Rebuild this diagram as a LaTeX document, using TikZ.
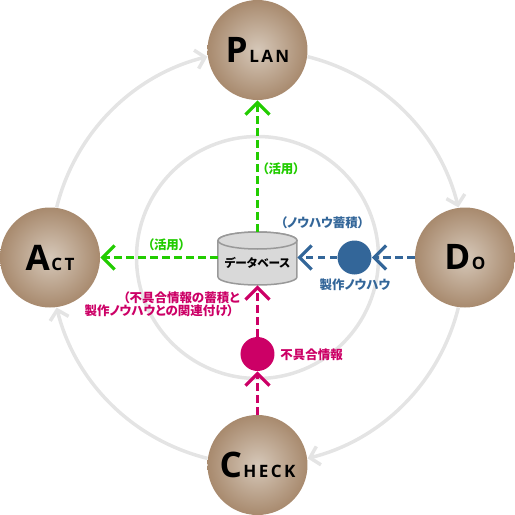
\documentclass[tikz,border=0pt]{standalone}
\usepackage{fontspec}
\setmainfont{Open Sans}
\newfontfamily\jpfont[RawFeature=+palt]{Noto Sans CJK JP}
\usetikzlibrary{arrows.meta}
\definecolor{ringgray}{HTML}{E4E4E4}
\definecolor{ballin}{HTML}{D6C8B9}
\definecolor{ballout}{HTML}{A88A6E}
\definecolor{usegreen}{HTML}{22CC00}
\definecolor{knowblue}{HTML}{336699}
\definecolor{faultred}{HTML}{CC0066}
\newcommand{\ballname}[2]{{\fontsize{20}{20}\selectfont\bfseries #1}\hspace{.03cm}{\addfontfeatures{LetterSpace=14}\fontsize{9.7}{10}\selectfont\bfseries #2}}
\tikzset{
  ball/.style={circle,minimum size=2cm,inner sep=0pt,shading=radial,inner color=ballin,outer color=ballout},
  dot/.style={circle,minimum size=.68cm,inner sep=0pt,fill=#1},
  ringline/.style={draw=ringgray,line width=.07cm,bend left=31,looseness=.92,-{Straight Barb[length=.18cm,width=.38cm,line width=.07cm]}},
  flow/.style={draw=#1,line width=.06cm,dash pattern=on .15cm off .09cm,-{Straight Barb[length=.24cm,width=.48cm,line width=.065cm]}},
  jptext/.style={font=\jpfont\fontsize{7.1}{8}\selectfont\bfseries,text=#1,inner sep=0pt,align=center},
  cyl/.style={fill=black!15,draw=gray!80,line width=.03cm}
}
\begin{document}
\begin{tikzpicture}
\useasboundingbox (-5.15,-5.15) rectangle (5.15,5.15);
\draw[ringgray,line width=.07cm] (0,0) circle (2.42);
\coordinate (a1) at (166:4.14); \coordinate (a2) at (104:4.14); \coordinate (b1) at (76:4.14); \coordinate (b2) at (14:4.14);
\coordinate (c1) at (-14:4.14); \coordinate (c2) at (-76:4.14); \coordinate (d1) at (-104:4.14); \coordinate (d2) at (-166:4.14);
\draw[ringline] (a1) to (a2); \draw[ringline] (b1) to (b2); \draw[ringline] (c1) to (c2); \draw[ringline] (d1) to (d2);
\node[ball] (plan) at (0,4.15) {\ballname{P}{LAN}};
\node[ball] (do) at (4.15,0) {\ballname{D}{O}};
\node[ball] (check) at (0,-4.15) {\ballname{C}{HECK}};
\node[ball] (act) at (-4.15,0) {\ballname{A}{CT}};
\draw[cyl] (-.79,.34) arc[start angle=180,end angle=0,x radius=.79,y radius=.17] -- (.79,-.39) arc[start angle=0,end angle=-180,x radius=.79,y radius=.16] -- cycle;
\draw[cyl] (0,.34) ellipse (.79 and .17);
\node[minimum width=1.58cm,minimum height=1.06cm,inner sep=0pt] (db) at (0,-.02) {};
\node[font=\jpfont\fontsize{6.6}{7.6}\selectfont\bfseries,inner sep=0pt] (dblabel) at (0,-.11) {データベース};
\node[dot=knowblue] (know) at (1.94,0) {};
\node[dot=faultred] (fault) at (0,-1.93) {};
\draw[flow=usegreen] (db.north) -- (plan);
\draw[flow=usegreen] (db.west |- 0,0) -- (act);
\draw[flow=knowblue] (do) -- (know);
\draw[flow=knowblue] (know) -- (db.east |- 0,0);
\draw[flow=faultred] (check) -- (fault);
\draw[flow=faultred] (fault) -- (db.south);
\node[jptext=usegreen] (use1) at (.47,1.77) {（活用）};
\node[jptext=usegreen] (use2) at (-1.82,.25) {（活用）};
\node[jptext=knowblue] (know1) at (1.3,.69) {（ノウハウ蓄積）};
\node[jptext=knowblue] (know2) at (1.95,-.55) {製作ノウハウ};
\node[jptext=faultred,anchor=west] (fault1) at (.45,-1.95) {不具合情報};
\node[jptext=faultred,anchor=east] (fault2) at (-.35,-.81) {（不具合情報の蓄積と};
\node[jptext=faultred,anchor=east] (fault3) at (-.47,-1.07) {製作ノウハウとの関連付け）};
\end{tikzpicture}
\end{document}
